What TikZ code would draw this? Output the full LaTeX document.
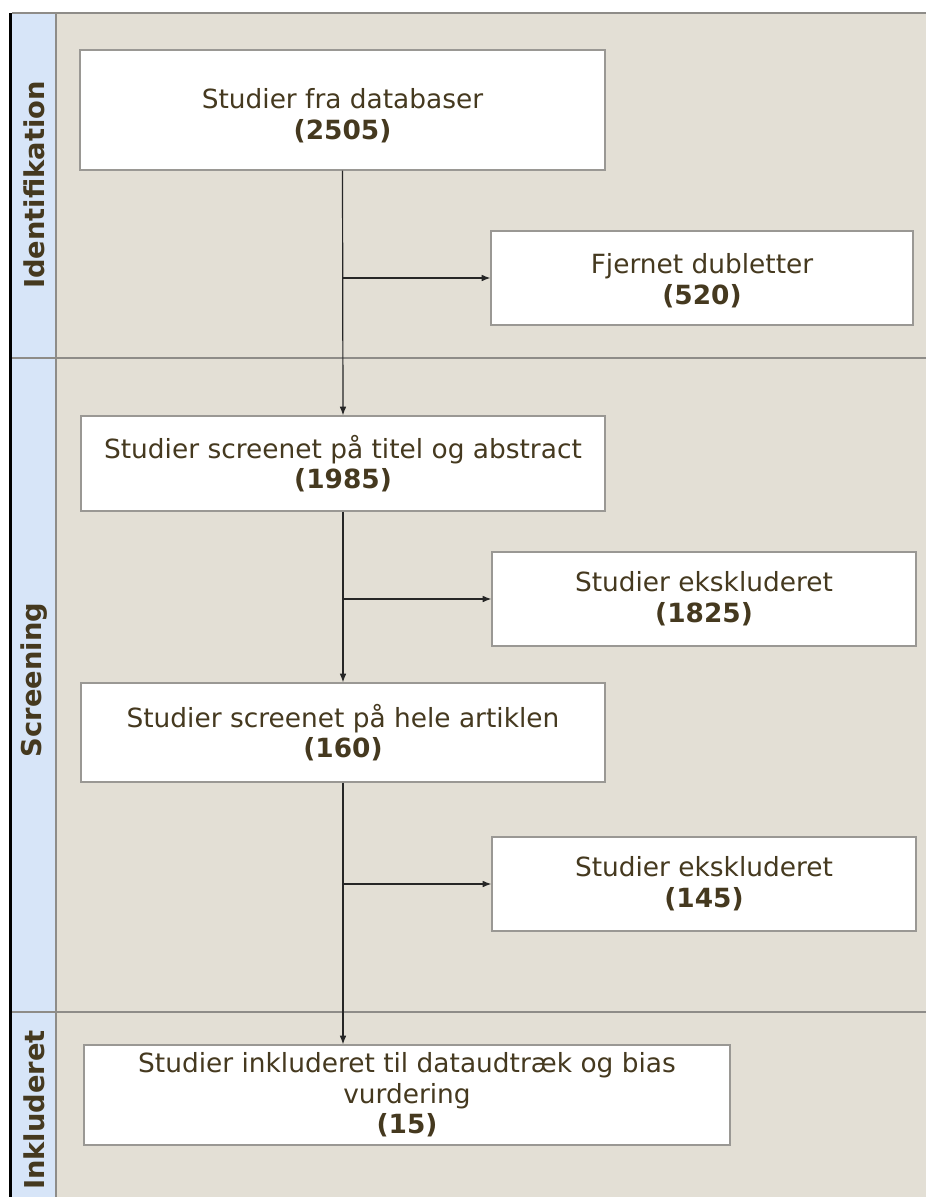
\documentclass[tikz,border=0pt]{standalone}
\usepackage{fontspec}
\setmainfont{DejaVu Sans}
\usetikzlibrary{arrows.meta}
\definecolor{lanebg}{HTML}{E3DFD5}
\definecolor{bandbg}{HTML}{D7E5F8}
\definecolor{inkbrown}{HTML}{45391F}
\definecolor{rulegray}{HTML}{8E8C88}
\definecolor{boxgray}{HTML}{9A9894}
\tikzset{
  boxtext/.style={text=inkbrown, align=center, inner sep=0pt,
    font=\fontsize{19.8}{23}\selectfont},
  flowbox/.style={boxtext, draw=boxgray, line width=0.9pt, fill=white},
  lanelabel/.style={rotate=90, text=inkbrown, inner sep=0pt,
    font=\fontsize{20.5}{24}\selectfont\bfseries},
  arr/.style={draw=black!85, line width=0.9pt, -{Latex[length=6.5pt,width=5pt]}},
  lanerule/.style={draw=rulegray, line width=0.9pt}
}
\begin{document}
\begin{tikzpicture}[x=0.75pt, y=-0.75pt]
  \useasboundingbox (0,0) rectangle (926,1197);
  \fill[white] (0,0) rectangle (926,1197);
  % swimlane backgrounds
  \fill[lanebg] (56,13) rectangle (926,1197);
  \fill[bandbg] (12,13) rectangle (56,1197);
  % lane frame
  \draw[black, line width=2.2pt] (10.5,13) -- (10.5,1197);
  \draw[lanerule] (12,13) -- (926,13);
  \draw[lanerule] (56,13) -- (56,1197);
  \draw[lanerule] (12,358) -- (926,358);
  \draw[lanerule] (12,1012) -- (926,1012);

  % lane titles
  \node[lanelabel] (l1) at (34,185) {Identifikation};
  \node[lanelabel] (l2) at (34,680) {Screening};
  \node[lanelabel] (l3) at (34,1110) {Inkluderet};

  % flow boxes
  \node[flowbox, minimum width=393.75pt, minimum height=90pt] (b1) at (342.5,110) {};
  \node[boxtext] (t1) at (342.5,116) {Studier fra databaser\\\textbf{(2505)}};
  \node[flowbox, minimum width=316.5pt, minimum height=70.5pt] (b2) at (702,278) {};
  \node[boxtext] (t2) at (702,281) {Fjernet dubletter\\\textbf{(520)}};
  \node[flowbox, minimum width=393pt, minimum height=71.25pt] (b3) at (343,463.5)
    {Studier screenet på titel og abstract\\\textbf{(1985)}};
  \node[flowbox, minimum width=318pt, minimum height=70.5pt] (b4) at (704,599)
    {Studier ekskluderet\\\textbf{(1825)}};
  \node[flowbox, minimum width=393pt, minimum height=74.25pt] (b5) at (343,732.5)
    {Studier screenet på hele artiklen\\\textbf{(160)}};
  \node[flowbox, minimum width=318pt, minimum height=70.5pt] (b6) at (704,884)
    {Studier ekskluderet\\\textbf{(145)}};
  \node[flowbox, minimum width=484.5pt, minimum height=75pt] (b7) at (407,1095)
    {Studier inkluderet til dataudtræk og bias\\vurdering\\\textbf{(15)}};

  % connectors
  \draw[arr] (b1.south) -- (b3.north);
  \draw[arr] (b3.south) -- (b5.north);
  \draw[arr] (b5.south) -- (b5.south |- b7.north);
  \coordinate (j1) at (b1.south |- b2.west);
  \coordinate (j2) at (b3.south |- b4.west);
  \coordinate (j3) at (b5.south |- b6.west);
  \draw[arr] (j1) -- (b2.west);
  \draw[arr] (j2) -- (b4.west);
  \draw[arr] (j3) -- (b6.west);
\end{tikzpicture}
\end{document}
